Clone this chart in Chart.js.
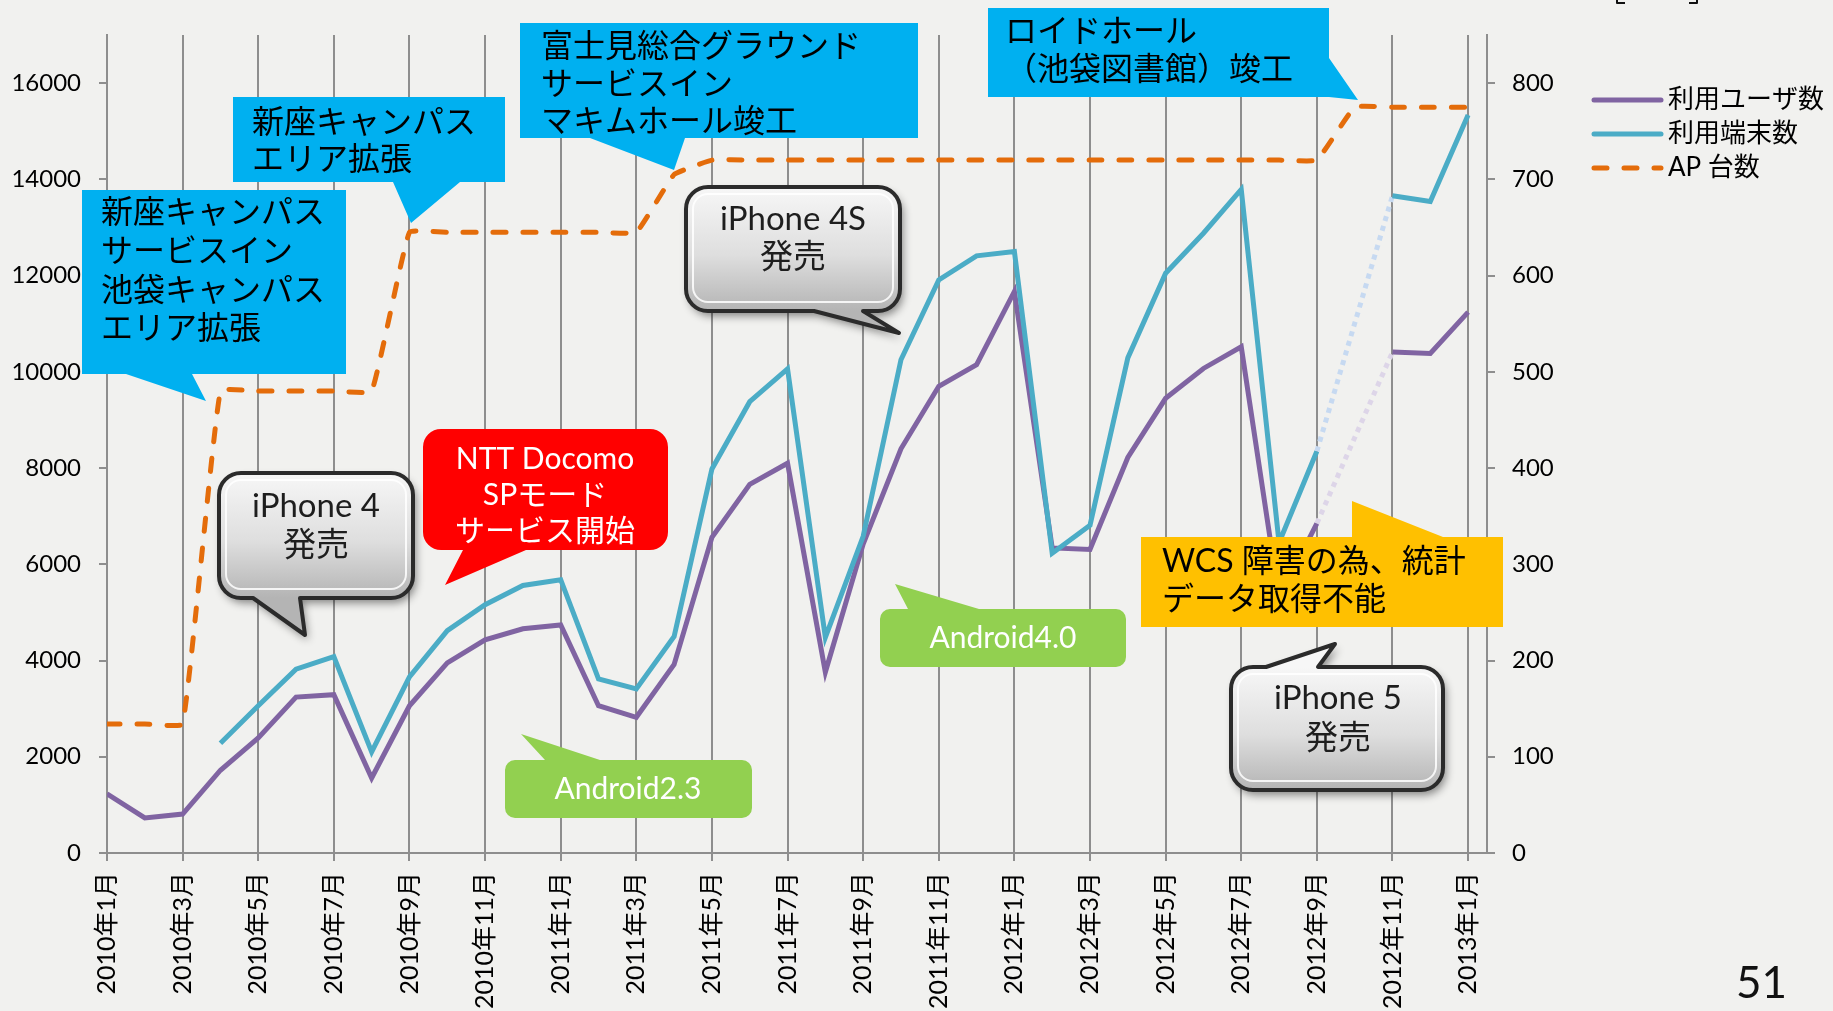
<!DOCTYPE html>
<html lang="ja">
<head>
<meta charset="utf-8">
<script src="https://cdn.jsdelivr.net/npm/chart.js@4.4.1/dist/chart.umd.min.js"></script>
<style>
  html, body { margin: 0; padding: 0; background: #f1f1ef; }
  #wrap { width: 1833px; height: 1011px; position: relative; }
</style>
</head>
<body>
<div id="wrap"><canvas id="grafico" width="1833" height="1011"></canvas></div>
<script>
// meses (eje x)
const meses = [
  '2010年1月','2010年2月','2010年3月','2010年4月','2010年5月','2010年6月',
  '2010年7月','2010年8月','2010年9月','2010年10月','2010年11月','2010年12月',
  '2011年1月','2011年2月','2011年3月','2011年4月','2011年5月','2011年6月',
  '2011年7月','2011年8月','2011年9月','2011年10月','2011年11月','2011年12月',
  '2012年1月','2012年2月','2012年3月','2012年4月','2012年5月','2012年6月',
  '2012年7月','2012年8月','2012年9月','2012年10月','2012年11月','2012年12月',
  '2013年1月'
];
// 利用ユーザ数 (eje izquierdo)
const usuarios = [
  1230, 730, 810, 1720, 2390, 3240, 3290, 1560, 3060, 3950, 4430, 4660,
  4740, 3060, 2820, 3920, 6560, 7660, 8100, 3760, 6420, 8400, 9700, 10150,
  11670, 6340, 6310, 8220, 9450, 10070, 10520, 5300, 6850, null, 10410, 10380,
  11240
];
// 利用端末数 (eje izquierdo)
const terminales = [
  null, null, null, 2280, 3060, 3820, 4080, 2100, 3660, 4620, 5160, 5560,
  5680, 3620, 3410, 4500, 7980, 9380, 10060, 4480, 6580, 10250, 11910, 12410,
  12500, 6230, 6810, 10290, 12050, 12880, 13790, 6450, 8350, null, 13660, 13540,
  15340
];
// AP 台数 (eje derecho)
const puntosAcceso = [
  134, 134, 134, 480, 480, 480, 480, 480, 645, 645, 645, 645,
  645, 645, 645, 705, 720, 720, 720, 720, 720, 720, 720, 720,
  720, 720, 720, 720, 720, 720, 720, 720, 720, 775, 775, 775,
  775
];
const nombres = ['利用ユーザ数', '利用端末数', 'AP 台数'];
// marcas de los ejes
const marcasIzq = [0, 2000, 4000, 6000, 8000, 10000, 12000, 14000, 16000];
const marcasDer = [0, 100, 200, 300, 400, 500, 600, 700, 800];
const maxIzq = 17000;
const maxDer = 850;

const FUENTE = "Lato, 'Noto Sans CJK JP', sans-serif";
const GRIS = '#8e8e8e';

// cuadros de texto (globos)
const notas = [
  { fondo: '#00b0f0', color: '#000', x: 82, y: 190, w: 264, h: 184, r: 0,
    cola: { lado: 'bottom', a: 126, b: 192, tx: 206, ty: 401 },
    lineas: ['新座キャンパス', 'サービスイン', '池袋キャンパス', 'エリア拡張'],
    tx: 101, ty: 213, lh: 38.6, size: 32, align: 'left' },
  { fondo: '#00b0f0', color: '#000', x: 233, y: 97, w: 272, h: 85, r: 0,
    cola: { lado: 'bottom', a: 393, b: 460, tx: 411, ty: 223 },
    lineas: ['新座キャンパス', 'エリア拡張'],
    tx: 252, ty: 123, lh: 37, size: 32, align: 'left' },
  { fondo: '#00b0f0', color: '#000', x: 520, y: 23, w: 398, h: 115, r: 0,
    cola: { lado: 'bottom', a: 590, b: 685, tx: 674, ty: 170 },
    lineas: ['富士見総合グラウンド', 'サービスイン', 'マキムホール竣工'],
    tx: 541, ty: 47, lh: 37.4, size: 32, align: 'left' },
  { fondo: '#00b0f0', color: '#000', x: 988, y: 8, w: 341, h: 89, r: 0,
    cola: { lado: 'right', a: 58, b: 97, tx: 1358, ty: 100 },
    lineas: ['ロイドホール', '（池袋図書館）竣工'],
    tx: 1005, ty: 32, lh: 38, size: 32, align: 'left' },
  { fondo: '#ffc000', color: '#000', x: 1141, y: 537, w: 362, h: 90, r: 0,
    cola: { lado: 'top', a: 1352, b: 1443, tx: 1352, ty: 501 },
    lineas: ['WCS 障害の為、統計', 'データ取得不能'],
    tx: 1162, ty: 562, lh: 38, size: 32, align: 'left' },
  { fondo: '#ff0000', color: '#fff', x: 423, y: 429, w: 245, h: 121, r: 18,
    cola: { lado: 'bottom', a: 463, b: 526, tx: 445, ty: 585 },
    lineas: ['NTT Docomo', 'SPモード', 'サービス開始'],
    tx: 545, ty: 459, lh: 36, size: 30, align: 'center' },
  { fondo: '#92d050', color: '#fff', x: 505, y: 760, w: 247, h: 58, r: 10,
    cola: { lado: 'top', a: 545, b: 600, tx: 521, ty: 734 },
    lineas: ['Android2.3'], tx: 628, ty: 789, lh: 36, size: 30, align: 'center' },
  { fondo: '#92d050', color: '#fff', x: 880, y: 609, w: 246, h: 58, r: 10,
    cola: { lado: 'top', a: 908, b: 979, tx: 895, ty: 584 },
    lineas: ['Android4.0'], tx: 1003, ty: 638, lh: 36, size: 30, align: 'center' },
  { gris: true, color: '#1e1e1e', x: 219, y: 473, w: 194, h: 125, r: 22,
    cola: { lado: 'bottom', a: 253, b: 300, tx: 305, ty: 635 },
    lineas: ['iPhone 4', '発売'], tx: 316, ty: 506, lh: 39, size: 33, align: 'center' },
  { gris: true, color: '#1e1e1e', x: 686, y: 187, w: 214, h: 124, r: 22,
    cola: { lado: 'bottom', a: 814, b: 863, tx: 899, ty: 333 },
    lineas: ['iPhone 4S', '発売'], tx: 793, ty: 219, lh: 38, size: 33, align: 'center' },
  { gris: true, color: '#1e1e1e', x: 1231, y: 667, w: 212, h: 123, r: 22,
    cola: { lado: 'top', a: 1266, b: 1318, tx: 1335, ty: 644 },
    lineas: ['iPhone 5', '発売'], tx: 1338, ty: 698, lh: 40, size: 33, align: 'center' }
];

function caminoGlobo(c, n) {
  const { x, y, w, h, r, cola } = n;
  c.beginPath();
  c.moveTo(x + r, y);
  if (cola.lado === 'top') { c.lineTo(cola.a, y); c.lineTo(cola.tx, cola.ty); c.lineTo(cola.b, y); }
  c.lineTo(x + w - r, y);
  c.arcTo(x + w, y, x + w, y + r, r);
  if (cola.lado === 'right') { c.lineTo(x + w, cola.a); c.lineTo(cola.tx, cola.ty); c.lineTo(x + w, cola.b); }
  c.lineTo(x + w, y + h - r);
  c.arcTo(x + w, y + h, x + w - r, y + h, r);
  if (cola.lado === 'bottom') { c.lineTo(cola.b, y + h); c.lineTo(cola.tx, cola.ty); c.lineTo(cola.a, y + h); }
  c.lineTo(x + r, y + h);
  c.arcTo(x, y + h, x, y + h - r, r);
  c.lineTo(x, y + r);
  c.arcTo(x, y, x + r, y, r);
  c.closePath();
}

function rectRedondo(c, x, y, w, h, r) {
  c.beginPath();
  c.moveTo(x + r, y);
  c.arcTo(x + w, y, x + w, y + h, r);
  c.arcTo(x + w, y + h, x, y + h, r);
  c.arcTo(x, y + h, x, y, r);
  c.arcTo(x, y, x + w, y, r);
  c.closePath();
}

const pluginNotas = {
  id: 'notas',
  afterDatasetsDraw(chart) {
    const c = chart.ctx;
    c.save();
    notas.forEach(n => {
      if (n.gris) {
        c.save();
        c.shadowColor = 'rgba(0,0,0,0.45)';
        c.shadowBlur = 8;
        c.shadowOffsetX = 3;
        c.shadowOffsetY = 5;
        const g = c.createLinearGradient(0, n.y, 0, n.y + n.h);
        g.addColorStop(0, '#f7f7f7');
        g.addColorStop(0.55, '#dedede');
        g.addColorStop(1, '#b4b4b4');
        caminoGlobo(c, n);
        c.fillStyle = g;
        c.fill();
        c.restore();
        caminoGlobo(c, n);
        c.lineWidth = 4;
        c.strokeStyle = '#2b2b2b';
        c.lineJoin = 'round';
        c.stroke();
        rectRedondo(c, n.x + 7, n.y + 7, n.w - 14, n.h - 16, n.r - 7);
        c.lineWidth = 2;
        c.strokeStyle = 'rgba(255,255,255,0.85)';
        c.stroke();
      } else {
        caminoGlobo(c, n);
        c.fillStyle = n.fondo;
        c.fill();
      }
      c.fillStyle = n.color;
      c.font = n.size + 'px ' + FUENTE;
      c.textAlign = n.align;
      c.textBaseline = 'middle';
      n.lineas.forEach((t, i) => c.fillText(t, n.tx, n.ty + i * n.lh));
    });

    // leyenda
    const estilos = [
      { color: '#8064a2', dash: [] },
      { color: '#4bacc6', dash: [] },
      { color: '#e46c0a', dash: [13, 17] }
    ];
    estilos.forEach((e, i) => {
      const yy = 100 + i * 34;
      c.beginPath();
      c.setLineDash(e.dash);
      c.lineCap = 'round';
      c.lineWidth = 5;
      c.strokeStyle = e.color;
      c.moveTo(1594, yy);
      c.lineTo(1661, yy);
      c.stroke();
      c.setLineDash([]);
      c.fillStyle = '#000';
      c.font = '26px ' + FUENTE;
      c.textAlign = 'left';
      c.textBaseline = 'middle';
      c.fillText(nombres[i], 1668, yy);
    });

    // numero de pagina y corchetes de arriba
    c.fillStyle = '#111';
    c.font = '44px ' + FUENTE;
    c.textAlign = 'left';
    c.textBaseline = 'alphabetic';
    c.fillText('51', 1736, 998);
    c.strokeStyle = '#111';
    c.lineWidth = 2;
    c.lineCap = 'butt';
    c.beginPath();
    c.moveTo(1617, 0); c.lineTo(1617, 3); c.lineTo(1625, 3);
    c.moveTo(1697, 0); c.lineTo(1697, 3); c.lineTo(1689, 3);
    c.stroke();
    c.restore();
  }
};

const hueco = (ctx, valor) => ctx.p0.skip || ctx.p1.skip ? valor : undefined;

document.addEventListener("DOMContentLoaded", function() {
  Chart.defaults.font.family = FUENTE;
  Chart.defaults.color = '#000';

  const ctx = document.getElementById('grafico').getContext('2d');
  const grafico = new Chart(ctx, {
    type: 'line',
    data: {
      datasets: [{
        label: nombres[2],
        data: puntosAcceso.map((v, i) => ({ x: i, y: v })),
        yAxisID: 'y1',
        borderColor: '#e46c0a',
        borderWidth: 5,
        borderDash: [13, 17],
        borderCapStyle: 'round',
        tension: 0.1,
        pointRadius: 0,
        order: 0
      }, {
        label: nombres[1],
        data: terminales.map((v, i) => ({ x: i, y: v })),
        yAxisID: 'y',
        borderColor: '#4bacc6',
        borderWidth: 5,
        pointRadius: 0,
        spanGaps: true,
        segment: {
          borderColor: c => hueco(c, '#c6d9f1'),
          borderDash: c => hueco(c, [5, 5])
        },
        order: 1
      }, {
        label: nombres[0],
        data: usuarios.map((v, i) => ({ x: i, y: v })),
        yAxisID: 'y',
        borderColor: '#8064a2',
        borderWidth: 5,
        pointRadius: 0,
        spanGaps: true,
        segment: {
          borderColor: c => hueco(c, '#ddd5e8'),
          borderDash: c => hueco(c, [5, 5])
        },
        order: 2
      }]
    },
    options: {
      responsive: false,
      animation: false,
      devicePixelRatio: 1,
      layout: { padding: { top: 35, left: 0, right: 0, bottom: 0 } },
      plugins: { legend: { display: false }, tooltip: { enabled: false } },
      scales: {
        x: {
          type: 'linear',
          min: 0,
          max: 36.5,
          grid: { color: GRIS, lineWidth: 2, tickLength: 8 },
          border: { color: GRIS, width: 2 },
          ticks: {
            stepSize: 2,
            includeBounds: false,
            autoSkip: false,
            minRotation: 90,
            maxRotation: 90,
            padding: 11,
            font: { size: 25 },
            callback: v => meses[v]
          },
          afterFit: s => { s.height = 158; }
        },
        y: {
          position: 'left',
          min: 0,
          max: maxIzq,
          grid: { drawOnChartArea: false, color: GRIS, lineWidth: 2, tickLength: 8 },
          border: { color: GRIS, width: 2 },
          ticks: {
            padding: 18,
            font: { size: 24 },
            callback: v => String(v)
          },
          afterBuildTicks: s => { s.ticks = marcasIzq.map(v => ({ value: v })); },
          afterFit: s => { s.width = 107; }
        },
        y1: {
          position: 'right',
          min: 0,
          max: maxDer,
          grid: { drawOnChartArea: false, color: GRIS, lineWidth: 2, tickLength: 8 },
          border: { color: GRIS, width: 2 },
          ticks: {
            padding: 17,
            font: { size: 24 },
            callback: v => String(v)
          },
          afterBuildTicks: s => { s.ticks = marcasDer.map(v => ({ value: v })); },
          afterFit: s => { s.width = 346; }
        }
      }
    },
    plugins: [pluginNotas]
  });
});
</script>
</body>
</html>
